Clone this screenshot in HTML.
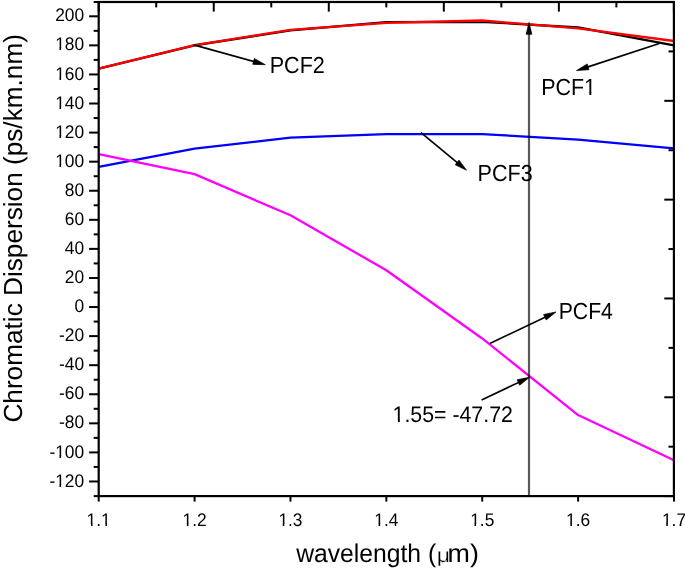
<!DOCTYPE html>
<html><head><meta charset="utf-8"><title>Chromatic Dispersion vs wavelength</title>
<style>
html,body{margin:0;padding:0;background:#fff;width:685px;height:571px;overflow:hidden;}
svg{display:block;font-family:"Liberation Sans", sans-serif;font-kerning:none;text-rendering:geometricPrecision;will-change:transform;}
</style></head>
<body>
<svg width="685" height="571" viewBox="0 0 685 571">
<rect width="685" height="571" fill="#fff"/>
<g><polyline points="98.70,68.63 194.58,45.37 290.46,30.40 386.34,22.11 482.22,21.82 578.10,27.49 673.98,45.37" fill="none" stroke="#000000" stroke-width="2.3" stroke-linejoin="round"/>
<polyline points="98.70,68.63 194.58,45.08 290.46,29.96 386.34,22.84 482.22,20.52 578.10,28.37 673.98,41.01" fill="none" stroke="#ff0000" stroke-width="2.3" stroke-linejoin="round"/>
<polyline points="98.70,166.76 194.58,148.59 290.46,137.68 386.34,134.05 482.22,134.05 578.10,139.72 673.98,148.30" fill="none" stroke="#0000ff" stroke-width="2.3" stroke-linejoin="round"/>
<polyline points="98.70,154.11 194.58,174.17 290.46,215.31 386.34,270.26 482.22,338.44 578.10,415.05 673.98,460.26" fill="none" stroke="#ff00ff" stroke-width="2.3" stroke-linejoin="round"/></g>
<g fill="#000"><text transform="translate(49.39,487.00) scale(0.9550,1)" font-size="18.20">-120</text>
<text transform="translate(49.39,458.00) scale(0.9550,1)" font-size="18.20">-100</text>
<text transform="translate(59.06,428.00) scale(0.9550,1)" font-size="18.20">-80</text>
<text transform="translate(59.06,399.00) scale(0.9550,1)" font-size="18.20">-60</text>
<text transform="translate(59.06,370.00) scale(0.9550,1)" font-size="18.20">-40</text>
<text transform="translate(59.06,341.00) scale(0.9550,1)" font-size="18.20">-20</text>
<text transform="translate(74.51,312.00) scale(0.9550,1)" font-size="18.20">0</text>
<text transform="translate(64.85,283.00) scale(0.9550,1)" font-size="18.20">20</text>
<text transform="translate(64.85,254.00) scale(0.9550,1)" font-size="18.20">40</text>
<text transform="translate(64.85,225.00) scale(0.9550,1)" font-size="18.20">60</text>
<text transform="translate(64.85,196.00) scale(0.9550,1)" font-size="18.20">80</text>
<text transform="translate(55.18,167.00) scale(0.9550,1)" font-size="18.20">100</text>
<text transform="translate(55.18,138.00) scale(0.9550,1)" font-size="18.20">120</text>
<text transform="translate(55.18,109.00) scale(0.9550,1)" font-size="18.20">140</text>
<text transform="translate(55.18,80.00) scale(0.9550,1)" font-size="18.20">160</text>
<text transform="translate(55.18,50.00) scale(0.9550,1)" font-size="18.20">180</text>
<text transform="translate(55.18,21.00) scale(0.9550,1)" font-size="18.20">200</text>
<text transform="translate(86.62,526.00) scale(0.9550,1)" font-size="18.20">1.1</text>
<text transform="translate(182.50,526.00) scale(0.9550,1)" font-size="18.20">1.2</text>
<text transform="translate(278.38,526.00) scale(0.9550,1)" font-size="18.20">1.3</text>
<text transform="translate(374.26,526.00) scale(0.9550,1)" font-size="18.20">1.4</text>
<text transform="translate(470.14,526.00) scale(0.9550,1)" font-size="18.20">1.5</text>
<text transform="translate(566.02,526.00) scale(0.9550,1)" font-size="18.20">1.6</text>
<text transform="translate(661.90,526.00) scale(0.9550,1)" font-size="18.20">1.7</text>
<text transform="translate(269.73,73.00) scale(0.9283,1)" font-size="23.20">PCF2</text>
<text transform="translate(477.53,181.00) scale(0.9294,1)" font-size="23.20">PCF3</text>
<text transform="translate(558.66,319.00) scale(0.9150,1)" font-size="23.20">PCF4</text>
<text transform="translate(541.14,95.00) scale(0.9242,1)" font-size="23.20">PCF1</text>
<text transform="translate(392.58,422.00) scale(0.9516,1)" font-size="22.40">1.55= -47.72</text>
<text transform="translate(296.14,562.00) scale(0.9612,1)" font-size="25.70">wavelength (</text>
<text stroke="#fff" stroke-width="0.25" transform="translate(436.85,562.00) scale(1.1200,1)" font-size="20.50">&#956;</text>
<text transform="translate(447.61,562.00) scale(1.0463,1)" font-size="25.70">m)</text>
<text transform="translate(21.6,422.6) rotate(-90)" font-size="26.20">Chromatic Dispersion (ps/km.nm)</text></g>
<g><rect x="56.00" y="485.00" width="8.00" height="2.50" fill="#fff"/>
<rect x="59.55" y="484.50" width="1.54" height="2.50" fill="#000"/>
<rect x="56.00" y="456.00" width="8.00" height="2.50" fill="#fff"/>
<rect x="59.55" y="455.50" width="1.54" height="2.50" fill="#000"/>
<rect x="56.00" y="165.00" width="8.00" height="2.50" fill="#fff"/>
<rect x="59.55" y="164.50" width="1.54" height="2.50" fill="#000"/>
<rect x="56.00" y="136.00" width="8.00" height="2.50" fill="#fff"/>
<rect x="59.55" y="135.50" width="1.54" height="2.50" fill="#000"/>
<rect x="56.00" y="107.00" width="8.00" height="2.50" fill="#fff"/>
<rect x="59.55" y="106.50" width="1.54" height="2.50" fill="#000"/>
<rect x="56.00" y="78.00" width="8.00" height="2.50" fill="#fff"/>
<rect x="59.55" y="77.50" width="1.54" height="2.50" fill="#000"/>
<rect x="56.00" y="48.00" width="8.00" height="2.50" fill="#fff"/>
<rect x="59.55" y="47.50" width="1.54" height="2.50" fill="#000"/>
<rect x="87.00" y="524.00" width="9.00" height="2.50" fill="#fff"/>
<rect x="90.99" y="523.50" width="1.54" height="2.50" fill="#000"/>
<rect x="102.00" y="524.00" width="8.00" height="2.50" fill="#fff"/>
<rect x="105.49" y="523.50" width="1.54" height="2.50" fill="#000"/>
<rect x="183.00" y="524.00" width="9.00" height="2.50" fill="#fff"/>
<rect x="186.87" y="523.50" width="1.54" height="2.50" fill="#000"/>
<rect x="279.00" y="524.00" width="9.00" height="2.50" fill="#fff"/>
<rect x="282.75" y="523.50" width="1.54" height="2.50" fill="#000"/>
<rect x="375.00" y="524.00" width="9.00" height="2.50" fill="#fff"/>
<rect x="378.63" y="523.50" width="1.54" height="2.50" fill="#000"/>
<rect x="471.00" y="524.00" width="8.00" height="2.50" fill="#fff"/>
<rect x="474.51" y="523.50" width="1.54" height="2.50" fill="#000"/>
<rect x="567.00" y="524.00" width="8.00" height="2.50" fill="#fff"/>
<rect x="570.39" y="523.50" width="1.54" height="2.50" fill="#000"/>
<rect x="663.00" y="524.00" width="8.00" height="2.50" fill="#fff"/>
<rect x="666.27" y="523.50" width="1.54" height="2.50" fill="#000"/>
<rect x="585.00" y="93.00" width="10.00" height="2.50" fill="#fff"/>
<rect x="589.42" y="92.50" width="1.90" height="2.50" fill="#000"/>
<rect x="394.00" y="420.00" width="10.00" height="2.50" fill="#fff"/>
<rect x="397.94" y="419.50" width="1.88" height="2.50" fill="#000"/></g>
<g><line x1="529.00" y1="496.10" x2="529.00" y2="30.00" stroke="#000" stroke-opacity="0.65" stroke-width="2.2"/>
<polygon points="529.00,22.40 526.15,34.30 531.85,34.30" fill="#000" stroke="#000" stroke-width="0.7" stroke-linejoin="round"/>
<line x1="193.80" y1="44.90" x2="258.25" y2="62.75" stroke="#000" stroke-width="1.7"/><polygon points="265.30,64.70 252.74,64.34 254.34,58.55" fill="#000" stroke="#000" stroke-width="0.7" stroke-linejoin="round"/>
<line x1="659.30" y1="43.50" x2="583.46" y2="68.32" stroke="#000" stroke-width="1.7"/><polygon points="576.50,70.60 587.16,63.95 589.03,69.66" fill="#000" stroke="#000" stroke-width="0.7" stroke-linejoin="round"/>
<line x1="421.00" y1="132.60" x2="460.86" y2="165.54" stroke="#000" stroke-width="1.7"/><polygon points="466.50,170.20 455.18,164.74 459.01,160.12" fill="#000" stroke="#000" stroke-width="0.7" stroke-linejoin="round"/>
<line x1="489.80" y1="343.50" x2="549.29" y2="315.15" stroke="#000" stroke-width="1.7"/><polygon points="555.90,312.00 546.18,319.96 543.60,314.54" fill="#000" stroke="#000" stroke-width="0.7" stroke-linejoin="round"/>
<line x1="481.60" y1="399.90" x2="522.78" y2="380.43" stroke="#000" stroke-width="1.7"/><polygon points="529.40,377.30 519.65,385.23 517.09,379.80" fill="#000" stroke="#000" stroke-width="0.7" stroke-linejoin="round"/></g>
<g stroke="#000" stroke-width="2.0"><rect x="98.70" y="2.00" width="575.20" height="494.10" fill="none" stroke="#000" stroke-width="2.2"/>
<line x1="93.70" y1="496.10" x2="98.70" y2="496.10"/>
<line x1="89.10" y1="481.48" x2="98.70" y2="481.48"/>
<line x1="93.70" y1="466.95" x2="98.70" y2="466.95"/>
<line x1="89.10" y1="452.41" x2="98.70" y2="452.41"/>
<line x1="93.70" y1="437.87" x2="98.70" y2="437.87"/>
<line x1="89.10" y1="423.34" x2="98.70" y2="423.34"/>
<line x1="93.70" y1="408.80" x2="98.70" y2="408.80"/>
<line x1="89.10" y1="394.26" x2="98.70" y2="394.26"/>
<line x1="93.70" y1="379.73" x2="98.70" y2="379.73"/>
<line x1="89.10" y1="365.19" x2="98.70" y2="365.19"/>
<line x1="93.70" y1="350.65" x2="98.70" y2="350.65"/>
<line x1="89.10" y1="336.11" x2="98.70" y2="336.11"/>
<line x1="93.70" y1="321.58" x2="98.70" y2="321.58"/>
<line x1="89.10" y1="307.04" x2="98.70" y2="307.04"/>
<line x1="93.70" y1="292.50" x2="98.70" y2="292.50"/>
<line x1="89.10" y1="277.97" x2="98.70" y2="277.97"/>
<line x1="93.70" y1="263.43" x2="98.70" y2="263.43"/>
<line x1="89.10" y1="248.89" x2="98.70" y2="248.89"/>
<line x1="93.70" y1="234.36" x2="98.70" y2="234.36"/>
<line x1="89.10" y1="219.82" x2="98.70" y2="219.82"/>
<line x1="93.70" y1="205.28" x2="98.70" y2="205.28"/>
<line x1="89.10" y1="190.74" x2="98.70" y2="190.74"/>
<line x1="93.70" y1="176.21" x2="98.70" y2="176.21"/>
<line x1="89.10" y1="161.67" x2="98.70" y2="161.67"/>
<line x1="93.70" y1="147.13" x2="98.70" y2="147.13"/>
<line x1="89.10" y1="132.60" x2="98.70" y2="132.60"/>
<line x1="93.70" y1="118.06" x2="98.70" y2="118.06"/>
<line x1="89.10" y1="103.52" x2="98.70" y2="103.52"/>
<line x1="93.70" y1="88.98" x2="98.70" y2="88.98"/>
<line x1="89.10" y1="74.45" x2="98.70" y2="74.45"/>
<line x1="93.70" y1="59.91" x2="98.70" y2="59.91"/>
<line x1="89.10" y1="45.37" x2="98.70" y2="45.37"/>
<line x1="93.70" y1="30.84" x2="98.70" y2="30.84"/>
<line x1="89.10" y1="16.30" x2="98.70" y2="16.30"/>
<line x1="93.70" y1="2.00" x2="98.70" y2="2.00"/>
<line x1="98.70" y1="496.10" x2="98.70" y2="501.60"/>
<line x1="194.58" y1="496.10" x2="194.58" y2="501.60"/>
<line x1="290.46" y1="496.10" x2="290.46" y2="501.60"/>
<line x1="386.34" y1="496.10" x2="386.34" y2="501.60"/>
<line x1="482.22" y1="496.10" x2="482.22" y2="501.60"/>
<line x1="578.10" y1="496.10" x2="578.10" y2="501.60"/>
<line x1="673.98" y1="496.10" x2="673.98" y2="501.60"/>
<line x1="98.70" y1="2.00" x2="98.70" y2="11.60"/>
<line x1="156.22" y1="2.00" x2="156.22" y2="7.40"/>
<line x1="213.74" y1="2.00" x2="213.74" y2="11.60"/>
<line x1="271.26" y1="2.00" x2="271.26" y2="7.40"/>
<line x1="328.78" y1="2.00" x2="328.78" y2="11.60"/>
<line x1="386.30" y1="2.00" x2="386.30" y2="7.40"/>
<line x1="443.82" y1="2.00" x2="443.82" y2="11.60"/>
<line x1="501.34" y1="2.00" x2="501.34" y2="7.40"/>
<line x1="558.86" y1="2.00" x2="558.86" y2="11.60"/>
<line x1="616.38" y1="2.00" x2="616.38" y2="7.40"/>
<line x1="673.90" y1="2.00" x2="673.90" y2="11.60"/>
<line x1="664.30" y1="2.00" x2="673.90" y2="2.00"/>
<line x1="668.50" y1="51.41" x2="673.90" y2="51.41"/>
<line x1="664.30" y1="100.82" x2="673.90" y2="100.82"/>
<line x1="668.50" y1="150.23" x2="673.90" y2="150.23"/>
<line x1="664.30" y1="199.64" x2="673.90" y2="199.64"/>
<line x1="668.50" y1="249.05" x2="673.90" y2="249.05"/>
<line x1="664.30" y1="298.46" x2="673.90" y2="298.46"/>
<line x1="668.50" y1="347.87" x2="673.90" y2="347.87"/>
<line x1="664.30" y1="397.28" x2="673.90" y2="397.28"/>
<line x1="668.50" y1="446.69" x2="673.90" y2="446.69"/>
<line x1="664.30" y1="496.10" x2="673.90" y2="496.10"/></g>
</svg>
</body></html>
